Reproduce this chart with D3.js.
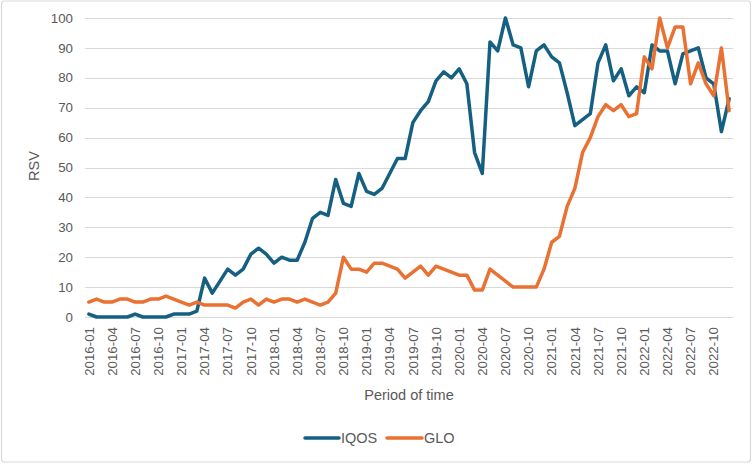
<!DOCTYPE html>
<html><head><meta charset="utf-8">
<script src="https://cdn.jsdelivr.net/npm/d3@7"></script>
<style>body{margin:0;background:#fff;}svg{display:block;font-family:"Liberation Sans",Arial,sans-serif;}</style>
</head><body>
<script>
const years = [2016,2017,2018,2019,2020,2021,2022];
const months = [];
years.forEach(y=>{for(let m=1;m<=12;m++) months.push(y+"-"+String(m).padStart(2,"0"));});
const iqos = [1,0,0,0,0,0,1,0,0,0,0,1,1,1,2,13,8,12,16,14,16,21,23,21,18,20,19,19,25,33,35,34,46,38,37,48,42,41,43,48,53,53,65,69,72,79,82,80,83,78,55,48,92,89,100,91,90,77,89,91,87,85,75,64,66,68,85,91,79,83,74,77,75,91,89,89,78,88,89,90,80,78,62,73];
const glo = [5,6,5,5,6,6,5,5,6,6,7,6,5,4,5,4,4,4,4,3,5,6,4,6,5,6,6,5,6,5,4,5,8,20,16,16,15,18,18,17,16,13,15,17,14,17,16,15,14,14,9,9,16,14,12,10,10,10,10,16,25,27,37,43,55,60,67,71,69,71,67,68,87,83,100,90,97,97,78,85,78,74,90,69];
const yTicks = [0,10,20,30,40,50,60,70,80,90,100];
const seriesNames = ["IQOS","GLO"];
const colors = ["#156082","#E97132"];

(function(){
const W=753,H=464;
const svg=d3.select("body").append("svg").attr("width",W).attr("height",H);
svg.append("rect").attr("x",1.5).attr("y",1).attr("width",749).attr("height",461).attr("rx",3)
  .attr("fill","#fff").attr("stroke","#d9d9d9").attr("stroke-width",1.2);

const pL=85,pR=733,pT=18,pB=317;
const x=d3.scaleBand().domain(months).range([pL,pR]);
const y=d3.scaleLinear().domain([0,100]).range([pB,pT]);
const tc="#595959";

svg.append("g").selectAll("line").data(yTicks).join("line")
  .attr("x1",pL).attr("x2",pR).attr("y1",d=>Math.round(y(d))+0.5).attr("y2",d=>Math.round(y(d))+0.5)
  .attr("stroke","#d9d9d9").attr("stroke-width",1);

svg.append("g").selectAll("text").data(yTicks).join("text")
  .attr("x",73).attr("y",d=>y(d)).attr("dy","0.35em").attr("text-anchor","end")
  .attr("fill",tc).attr("font-size",13.3).text(d=>d);

const xl = months.filter((m,i)=>i%3===0);
svg.append("g").selectAll("text").data(xl).join("text")
  .attr("transform",d=>`translate(${x(d)+x.bandwidth()/2},327) rotate(-90)`)
  .attr("text-anchor","end").attr("dy","0.35em")
  .attr("fill",tc).attr("font-size",13.3).text(d=>d);

svg.append("text").attr("transform","translate(34,166) rotate(-90)").attr("text-anchor","middle")
  .attr("dy","0.35em").attr("fill",tc).attr("font-size",14.5).text("RSV");
svg.append("text").attr("x",409).attr("y",400).attr("text-anchor","middle")
  .attr("fill",tc).attr("font-size",14.5).text("Period of time");

const line=d3.line().x((d,i)=>x(months[i])+x.bandwidth()/2).y(d=>y(d));
[iqos,glo].forEach((s,k)=>{
  svg.append("path").datum(s).attr("d",line).attr("fill","none")
    .attr("stroke",colors[k]).attr("stroke-width",3.5).attr("stroke-linejoin","round").attr("stroke-linecap","round");
});

const leg=[{x1:305,x2:339,tx:341},{x1:387,x2:422,tx:424}];
seriesNames.forEach((n,k)=>{
  svg.append("line").attr("x1",leg[k].x1).attr("x2",leg[k].x2).attr("y1",438).attr("y2",438)
    .attr("stroke",colors[k]).attr("stroke-width",3.5).attr("stroke-linecap","round");
  svg.append("text").attr("x",leg[k].tx).attr("y",438).attr("dy","0.35em").attr("fill",tc)
    .attr("font-size",14.5).text(n);
});
})();
</script>
</body></html>
